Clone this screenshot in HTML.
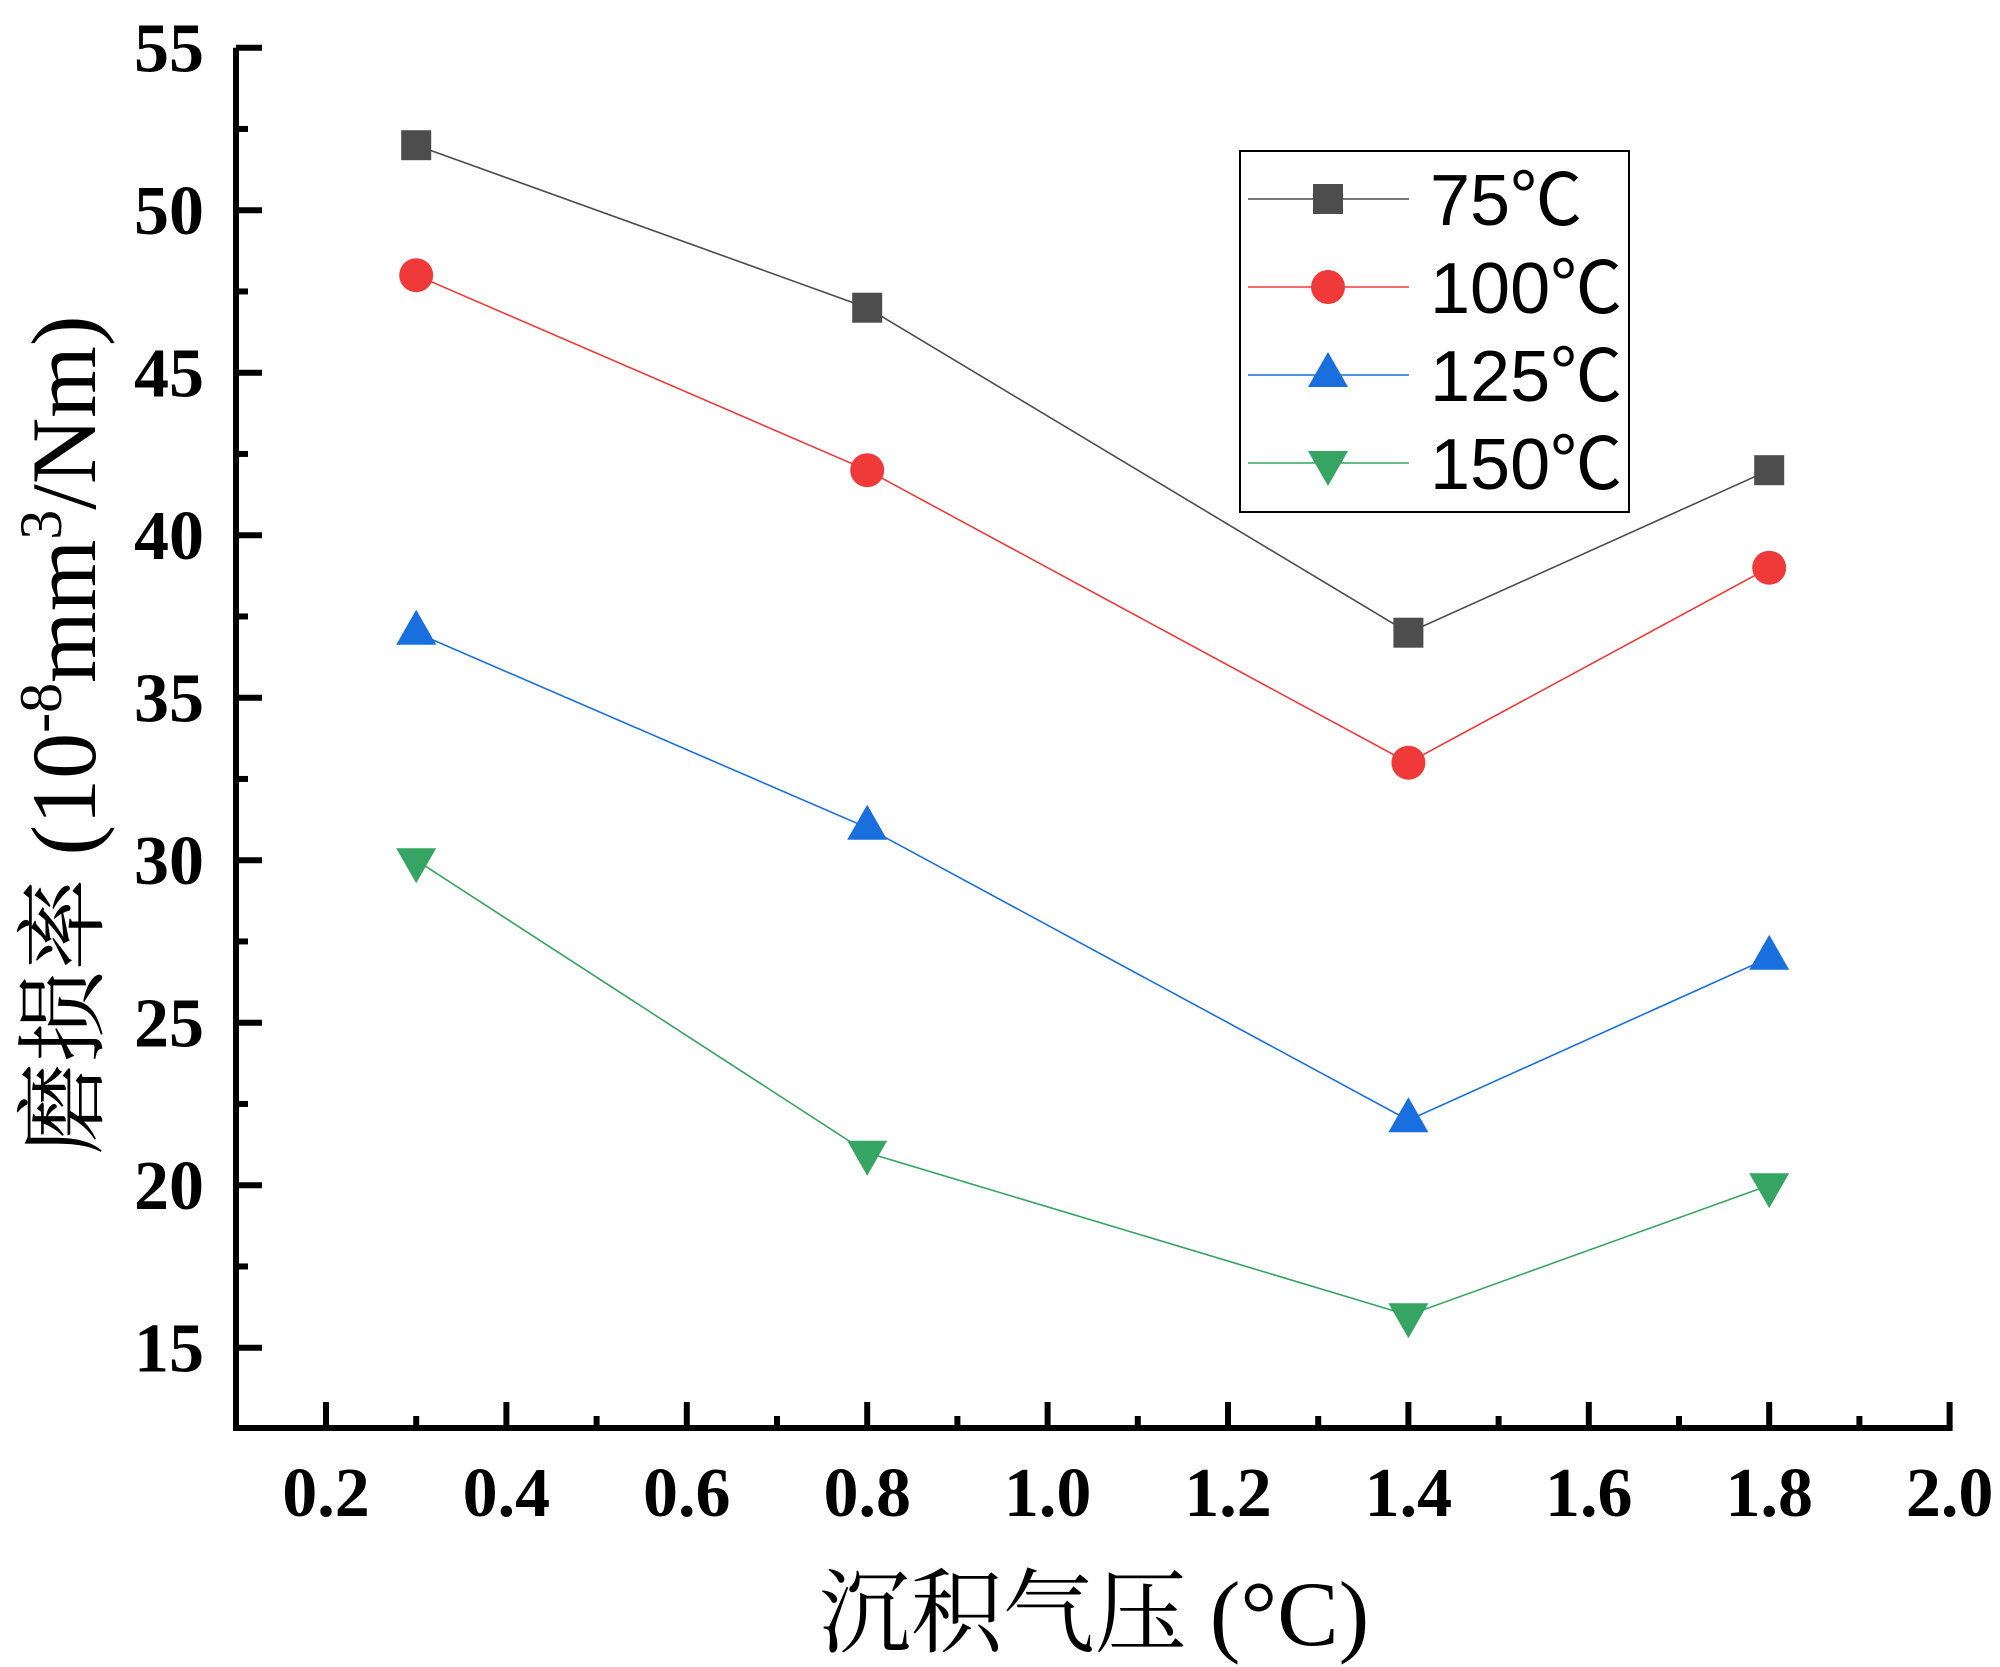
<!DOCTYPE html>
<html><head><meta charset="utf-8"><style>
html,body{margin:0;padding:0;background:#fff;}
svg{display:block;}
</style></head><body>
<svg id="chart" width="2000" height="1667" viewBox="0 0 2000 1667" xmlns="http://www.w3.org/2000/svg">
<g id="axes"></g>
<g id="series"></g>
<g id="legend">
  <rect x="1240" y="151" width="389" height="361" fill="#fff" stroke="#000" stroke-width="2"/>
</g>
<text transform="translate(95,735) rotate(-90)" text-anchor="middle" font-family="'Liberation Serif','Noto Serif CJK SC',serif" font-size="92">磨损率 (10<tspan font-size="60" dy="-34">-8</tspan><tspan dy="34">mm</tspan><tspan font-size="60" dy="-34">3</tspan><tspan dy="34">/Nm)</tspan></text>
<text x="1094" y="1645" text-anchor="middle" font-family="'Liberation Serif','Noto Serif CJK SC',serif" font-size="92">沉积气压 (°C)</text>
</svg>
<script>
const xValues = [0.3, 0.8, 1.4, 1.8];
const seriesNames = ['75℃', '100℃', '125℃', '150℃'];
const s75 = [52, 47, 37, 42];
const s100 = [48, 42, 33, 39];
const s125 = [37, 31, 22, 27];
const s150 = [30, 21, 16, 20];
const xTicks = ['0.2','0.4','0.6','0.8','1.0','1.2','1.4','1.6','1.8','2.0'];
const yTicks = ['15','20','25','30','35','40','45','50','55'];

const NS = 'http://www.w3.org/2000/svg';
function X(v){ return 326 + (v - 0.2) * 902; }
function Y(v){ return 47.7 + (55 - v) * 32.5; }
function mk(tag, attrs, parent){
  const e = document.createElementNS(NS, tag);
  for (const k in attrs) e.setAttribute(k, attrs[k]);
  parent.appendChild(e);
  return e;
}
const axes = document.getElementById('axes');
const series = document.getElementById('series');
const legend = document.getElementById('legend');
const axB = 1428, axL = 236, axR = X(2.0);

let a = mk('path', {d:`M${axL},${Y(55)} L${axL},${axB} L${axR+3},${axB}`, fill:'none', stroke:'#000', 'stroke-width':6}, axes);



for (let i = 1; i <= 19; i++) {
  const v = 0.1 * i + 0.1;
  const major = (i % 2 === 1);
  const len = major ? 26 : 12;
  const t = mk('line', {x1:X(v), x2:X(v), y1:axB, y2:axB-len, stroke:'#000', 'stroke-width':6}, axes);
  
  
}
xTicks.forEach(s => {
  const v = parseFloat(s);
  const t = mk('text', {x:X(v), y:1516, 'text-anchor':'middle', 'font-family':"'Liberation Serif',serif", 'font-weight':'bold', 'font-size':70}, axes);
  t.textContent = s;
  
  
});
for (let v = 15; v <= 55; v += 2.5) {
  const major = (v % 5 === 0);
  const len = major ? 26 : 12;
  const t = mk('line', {x1:axL, x2:axL+len, y1:Y(v), y2:Y(v), stroke:'#000', 'stroke-width':6}, axes);
  
  
}
yTicks.forEach(s => {
  const v = parseFloat(s);
  const t = mk('text', {x:204, y:Y(v)+24, 'text-anchor':'end', 'font-family':"'Liberation Serif',serif", 'font-weight':'bold', 'font-size':70}, axes);
  t.textContent = s;
  
  
});

const allSeries = [s75, s100, s125, s150];
const colors = ['#4d4d4d', '#f03a3a', '#1a6fdf', '#36a563'];
const shapes = ['square', 'circle', 'up', 'down'];
function marker(shape, cx, cy, color, parent){
  let e;
  if (shape === 'square') e = mk('rect', {x:cx-15, y:cy-15, width:30, height:30, fill:color}, parent);
  else if (shape === 'circle') e = mk('circle', {cx:cx, cy:cy, r:17, fill:color}, parent);
  else if (shape === 'up') e = mk('polygon', {points:`${cx-20},${cy+12} ${cx+20},${cy+12} ${cx},${cy-23}`, fill:color}, parent);
  else e = mk('polygon', {points:`${cx-20},${cy-12} ${cx+20},${cy-12} ${cx},${cy+23}`, fill:color}, parent);
  return e;
}
allSeries.forEach((vals, si) => {
  const g = mk('g', {}, series);
  
  
  const pts = vals.map((v, i) => `${X(xValues[i])},${Y(v)}`).join(' ');
  const l = mk('polyline', {points:pts, fill:'none', stroke:colors[si], 'stroke-width':1.6}, g);
  
  
  vals.forEach((v, i) => {
    const m = marker(shapes[si], X(xValues[i]), Y(v), colors[si], g);
    
    
  });
  const ly = 199 + si * 88;
  const lg = mk('g', {}, legend);
  
  
  mk('line', {x1:1248, x2:1409, y1:ly, y2:ly, stroke:colors[si], 'stroke-width':1.6}, lg);
  marker(shapes[si], 1328, ly, colors[si], lg);
  const tx = mk('text', {x:1430, y:ly+26, 'font-family':"'Liberation Sans','Noto Sans CJK SC',sans-serif", 'font-size':72}, lg);
  tx.textContent = seriesNames[si];
});
</script>
</body></html>
